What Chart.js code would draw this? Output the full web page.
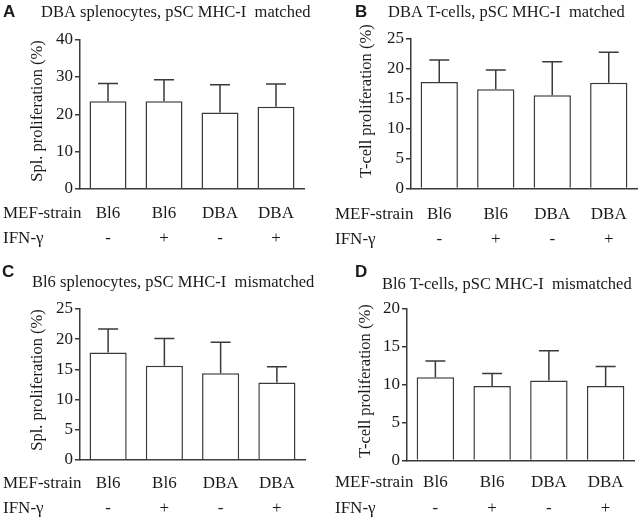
<!DOCTYPE html>
<html><head><meta charset="utf-8">
<script src="https://cdn.jsdelivr.net/npm/chart.js@4.4.1/dist/chart.umd.min.js"></script>
<style>
html,body{margin:0;padding:0;background:#fff;}
#wrap{position:relative;width:641px;height:520px;overflow:hidden;background:#fff;}
.pane{position:absolute;}
canvas{display:block;}
</style></head><body>
<div id="wrap">
  <div class="pane" style="left:0;top:0;"><canvas id="cA" width="320" height="260"></canvas></div>
  <div class="pane" style="left:320px;top:0;"><canvas id="cB" width="321" height="260"></canvas></div>
  <div class="pane" style="left:0;top:260px;"><canvas id="cC" width="320" height="260"></canvas></div>
  <div class="pane" style="left:320px;top:260px;"><canvas id="cD" width="321" height="260"></canvas></div>
</div>
<script>
// ---- data ----
const strains = ['Bl6', 'Bl6', 'DBA', 'DBA'];
const ifnGamma = ['-', '+', '-', '+'];
const rowHeaders = ['MEF-strain', 'IFN-γ'];

const meanA = [23.5, 23.5, 20.5, 22.0];
const sdA   = [4.7, 5.7, 7.4, 6.1];
const meanB = [17.8, 16.6, 15.6, 17.7];
const sdB   = [3.7, 3.2, 5.6, 5.1];
const meanC = [17.8, 15.6, 14.35, 12.85];
const sdC   = [3.9, 4.5, 5.15, 2.6];
const meanD = [11.0, 9.85, 10.55, 9.85];
const sdD   = [2.15, 1.65, 3.95, 2.55];

const yMaxA = 40, yStepA = 10;
const yMaxB = 25, yStepB = 5;
const yMaxC = 25, yStepC = 5;
const yMaxD = 20, yStepD = 5;

const letters = ['A', 'B', 'C', 'D'];
const titles = [
  'DBA splenocytes, pSC MHC-I  matched',
  'DBA T-cells, pSC MHC-I  matched',
  'Bl6 splenocytes, pSC MHC-I  mismatched',
  'Bl6 T-cells, pSC MHC-I  mismatched'
];
const yTitles = [
  'Spl. proliferation (%)',
  'T-cell proliferation (%)',
  'Spl. proliferation (%)',
  'T-cell proliferation (%)'
];

// ---- style ----
const INK = '#3a3a3a';
const TXT = '#1a1a1a';
const SERIF = "'Liberation Serif', 'Times New Roman', serif";
const SANS = "'Liberation Sans', Arial, sans-serif";

const annotate = {
  id: 'annotate',
  afterDatasetsDraw(chart, args, o) {
    const ctx = chart.ctx;
    const xs = chart.scales.x, ys = chart.scales.y;
    const data = chart.data.datasets[0].data;
    ctx.save();
    // error bars (upper only)
    ctx.strokeStyle = INK;
    ctx.lineWidth = 1.5;
    data.forEach((v, i) => {
      const x = xs.getPixelForValue(i);
      const y0 = ys.getPixelForValue(v);
      const y1 = ys.getPixelForValue(v + o.sd[i]);
      ctx.beginPath();
      ctx.moveTo(x, y0); ctx.lineTo(x, y1);
      ctx.moveTo(x - o.cap, y1); ctx.lineTo(x + o.cap, y1);
      ctx.stroke();
    });
    ctx.fillStyle = TXT;
    // panel letter
    ctx.textAlign = 'left';
    ctx.textBaseline = 'alphabetic';
    ctx.font = "bold 17px " + SANS;
    ctx.fillText(o.letter, o.letterX, o.letterY);
    // title
    ctx.font = "16.5px " + SERIF;
    ctx.fillText(o.title, o.titleX, o.titleY);
    // y title
    ctx.save();
    ctx.translate(o.yTitleX, o.yTitleY);
    ctx.rotate(-Math.PI / 2);
    ctx.textAlign = 'center';
    ctx.textBaseline = 'middle';
    ctx.fillText(o.yTitle, 0, 0);
    ctx.restore();
    // row headers
    ctx.font = "17px " + SERIF;
    ctx.textAlign = 'left';
    ctx.textBaseline = 'middle';
    const y1 = xs.top + o.pad + o.lh / 2;
    ctx.fillText(rowHeaders[0], o.rowX, y1);
    ctx.fillText(rowHeaders[1], o.rowX, y1 + o.lh);
    ctx.restore();
  }
};

function makePanel(id, idx, means, sds, yMax, yStep, g) {
  const labels = strains.map((s, i) => [s, ifnGamma[i]]);
  return new Chart(document.getElementById(id), {
    type: 'bar',
    data: {
      labels: labels,
      datasets: [{
        data: means,
        backgroundColor: '#ffffff',
        borderColor: INK,
        borderWidth: 1.5,
        borderSkipped: 'start',
        barPercentage: 0.66,
        categoryPercentage: 1.0
      }]
    },
    options: {
      responsive: false,
      animation: false,
      events: [],
      layout: { padding: { left: 0, top: g.top, right: g.w - g.right, bottom: 0 } },
      plugins: {
        legend: { display: false },
        tooltip: { enabled: false },
        title: { display: false },
        annotate: {
          sd: sds, cap: 10,
          letter: letters[idx], letterX: g.letterX, letterY: g.letterY,
          title: titles[idx], titleX: g.titleX, titleY: g.titleY,
          yTitle: yTitles[idx], yTitleX: g.yTitleX, yTitleY: g.yTitleY,
          rowX: g.rowX, pad: g.pad, lh: g.lh
        }
      },
      scales: {
        x: {
          offset: true,
          grid: { display: false, drawTicks: false },
          border: { display: true, color: INK, width: 1.5 },
          ticks: {
            color: TXT, padding: g.pad, maxRotation: 0, autoSkip: false,
            font: { family: SERIF, size: 17, lineHeight: g.lh + 'px' }
          },
          afterFit: s => { s.height = g.h - g.bottom; }
        },
        y: {
          min: 0, max: yMax,
          grid: { display: true, drawOnChartArea: false, drawTicks: true, tickLength: 5, color: INK, lineWidth: 1.5 },
          border: { display: true, color: INK, width: 1.5 },
          ticks: {
            stepSize: yStep, color: TXT, padding: 2,
            font: { family: SERIF, size: 17 }
          },
          afterFit: s => { s.width = g.left; }
        }
      }
    },
    plugins: [annotate]
  });
}

makePanel('cA', 0, meanA, sdA, yMaxA, yStepA, {
  w: 320, h: 260, left: 80, right: 304, top: 39.5, bottom: 189,
  letterX: 3, letterY: 17, titleX: 41, titleY: 17,
  yTitleX: 38, yTitleY: 111, rowX: 3, pad: 12.5, lh: 25
});
makePanel('cB', 1, meanB, sdB, yMaxB, yStepB, {
  w: 321, h: 260, left: 91, right: 317, top: 39, bottom: 188.5,
  letterX: 35, letterY: 17, titleX: 68, titleY: 17,
  yTitleX: 46.5, yTitleY: 101, rowX: 15, pad: 13, lh: 25.5
});
makePanel('cC', 2, meanC, sdC, yMaxC, yStepC, {
  w: 320, h: 260, left: 80, right: 305, top: 49, bottom: 200,
  letterX: 2, letterY: 17, titleX: 32, titleY: 27,
  yTitleX: 38, yTitleY: 120, rowX: 3, pad: 10.75, lh: 25.5
});
makePanel('cD', 3, meanD, sdD, yMaxD, yStepD, {
  w: 321, h: 260, left: 87, right: 314, top: 49, bottom: 200.5,
  letterX: 35, letterY: 17, titleX: 62, titleY: 28.5,
  yTitleX: 46, yTitleY: 121, rowX: 15, pad: 9.5, lh: 26
});
</script>
</body></html>
